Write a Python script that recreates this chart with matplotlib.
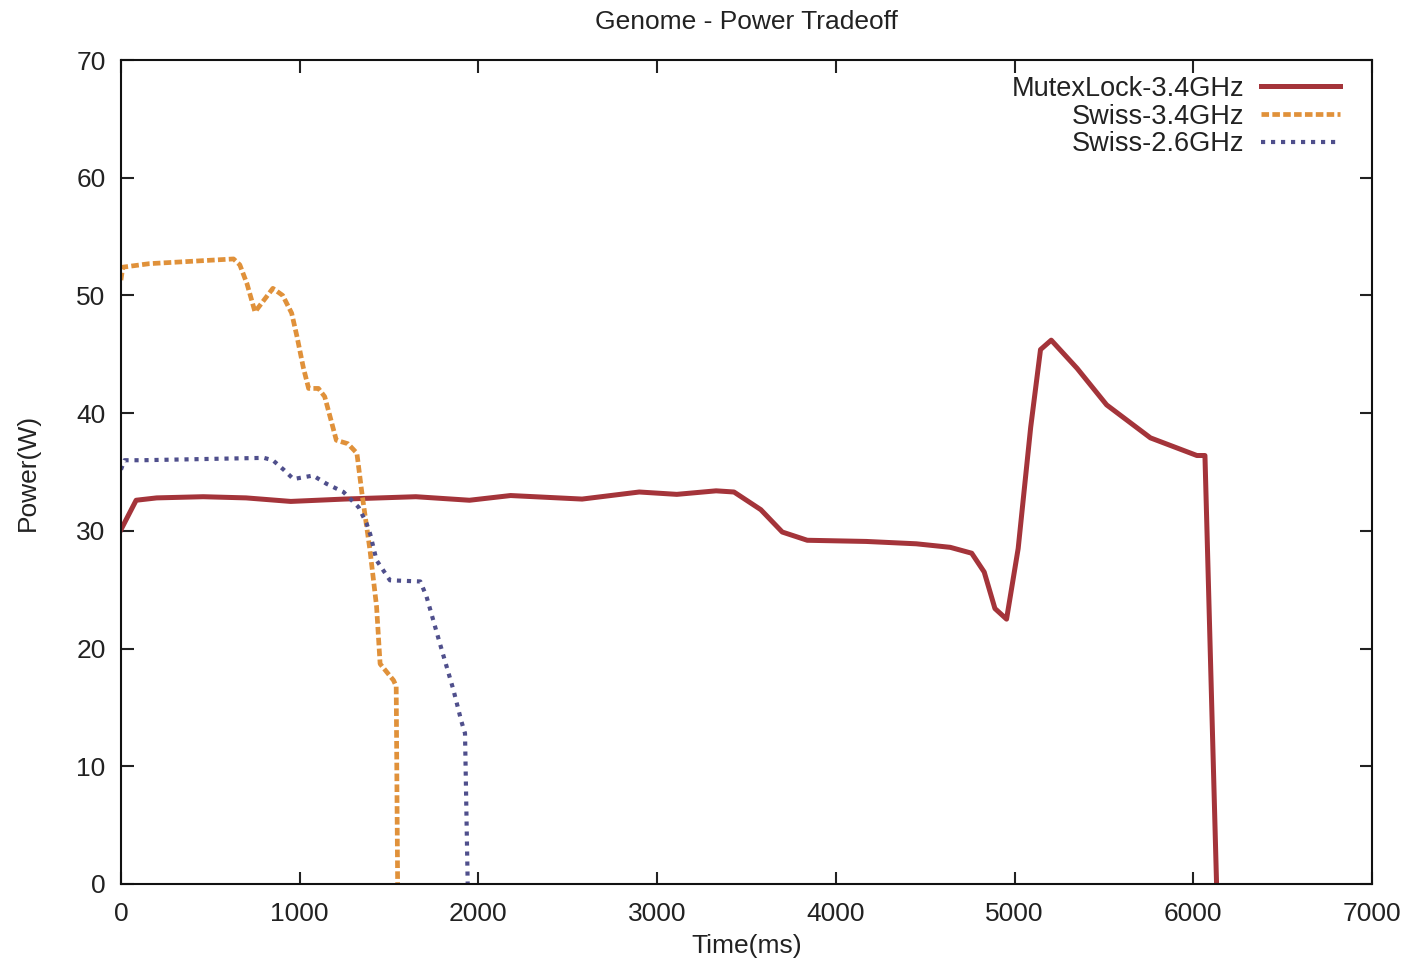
import matplotlib
matplotlib.use("Agg")
import matplotlib.pyplot as plt

# data
mutex_t = [0, 85, 200, 460, 700, 950, 1250, 1650, 1950, 2180, 2580, 2900, 3110,
           3330, 3430, 3580, 3700, 3840, 4170, 4450, 4640, 4760, 4830, 4890,
           4955, 5020, 5090, 5145, 5205, 5350, 5515, 5760, 6020, 6065, 6130]
mutex_p = [30.1, 32.6, 32.8, 32.9, 32.8, 32.5, 32.7, 32.9, 32.6, 33.0, 32.7, 33.3,
           33.1, 33.4, 33.3, 31.8, 29.9, 29.2, 29.1, 28.9, 28.6, 28.1, 26.5, 23.4,
           22.5, 28.5, 38.8, 45.4, 46.2, 43.8, 40.7, 37.9, 36.4, 36.4, 0]

swiss34_t = [0, 10, 160, 630, 665, 705, 750, 850, 905, 955, 985, 1020, 1050, 1105,
             1140, 1170, 1205, 1270, 1320, 1350, 1393, 1430, 1450, 1525, 1540, 1548]
swiss34_p = [51.3, 52.4, 52.7, 53.1, 52.6, 51.0, 48.6, 50.6, 50.0, 48.5, 46.5, 43.9,
             42.1, 42.1, 41.4, 39.7, 37.7, 37.4, 36.6, 33.0, 28.4, 23.6, 18.7, 17.3,
             16.8, 0]

swiss26_t = [0, 20, 120, 800, 850, 910, 965, 1075, 1150, 1245, 1330, 1375, 1395,
             1430, 1505, 1675, 1710, 1785, 1860, 1905, 1925, 1940]
swiss26_p = [35.2, 36.0, 36.0, 36.2, 36.0, 35.2, 34.4, 34.7, 34.0, 33.3, 32.0, 30.6,
             29.7, 27.5, 25.8, 25.7, 24.4, 20.4, 16.5, 13.8, 12.8, 0]

x_ticks = [0, 1000, 2000, 3000, 4000, 5000, 6000, 7000]
y_ticks = [0, 10, 20, 30, 40, 50, 60, 70]

plt.rcParams['font.family'] = ['Liberation Sans', 'DejaVu Sans']
fs = 19

fig = plt.figure(figsize=(14.18, 9.68), dpi=100)
ax = fig.add_axes([0.0853, 0.0868, 0.8823, 0.8512])

ax.plot(mutex_t, mutex_p, color='#a4343a', lw=3.6, label='MutexLock-3.4GHz')
ax.plot(swiss34_t, swiss34_p, color='#e0913a', lw=3.4, dashes=(1.6, 0.7),
        label='Swiss-3.4GHz')
ax.plot(swiss26_t, swiss26_p, color='#4f4f8c', lw=3.0, dashes=(1.0, 1.4),
        label='Swiss-2.6GHz')

ax.set_xlim(0, 7000)
ax.set_ylim(0, 70)
ax.set_xticks(x_ticks)
ax.set_yticks(y_ticks)
ax.tick_params(direction='in', length=9, width=1.5, top=True, right=True,
               labelsize=fs, colors='#222222')
ax.tick_params(axis='x', pad=13)
ax.tick_params(axis='y', pad=11)
for s in ax.spines.values():
    s.set_linewidth(1.5)
    s.set_color('#111111')

ax.set_title('Genome - Power Tradeoff', fontsize=fs, pad=22, color='#222222')
ax.set_xlabel('Time(ms)', fontsize=fs, labelpad=6, color='#222222')
ax.set_ylabel('Power(W)', fontsize=fs, labelpad=26, color='#222222')

leg = ax.legend(loc='upper right', frameon=False, markerfirst=False, fontsize=19.5,
                handlelength=2.9, handletextpad=0.65, labelspacing=0.07,
                borderpad=0, borderaxespad=0, bbox_to_anchor=(0.9744, 0.981))
for t in leg.get_texts():
    t.set_color('#222222')

fig.savefig('out.png', dpi=100)
